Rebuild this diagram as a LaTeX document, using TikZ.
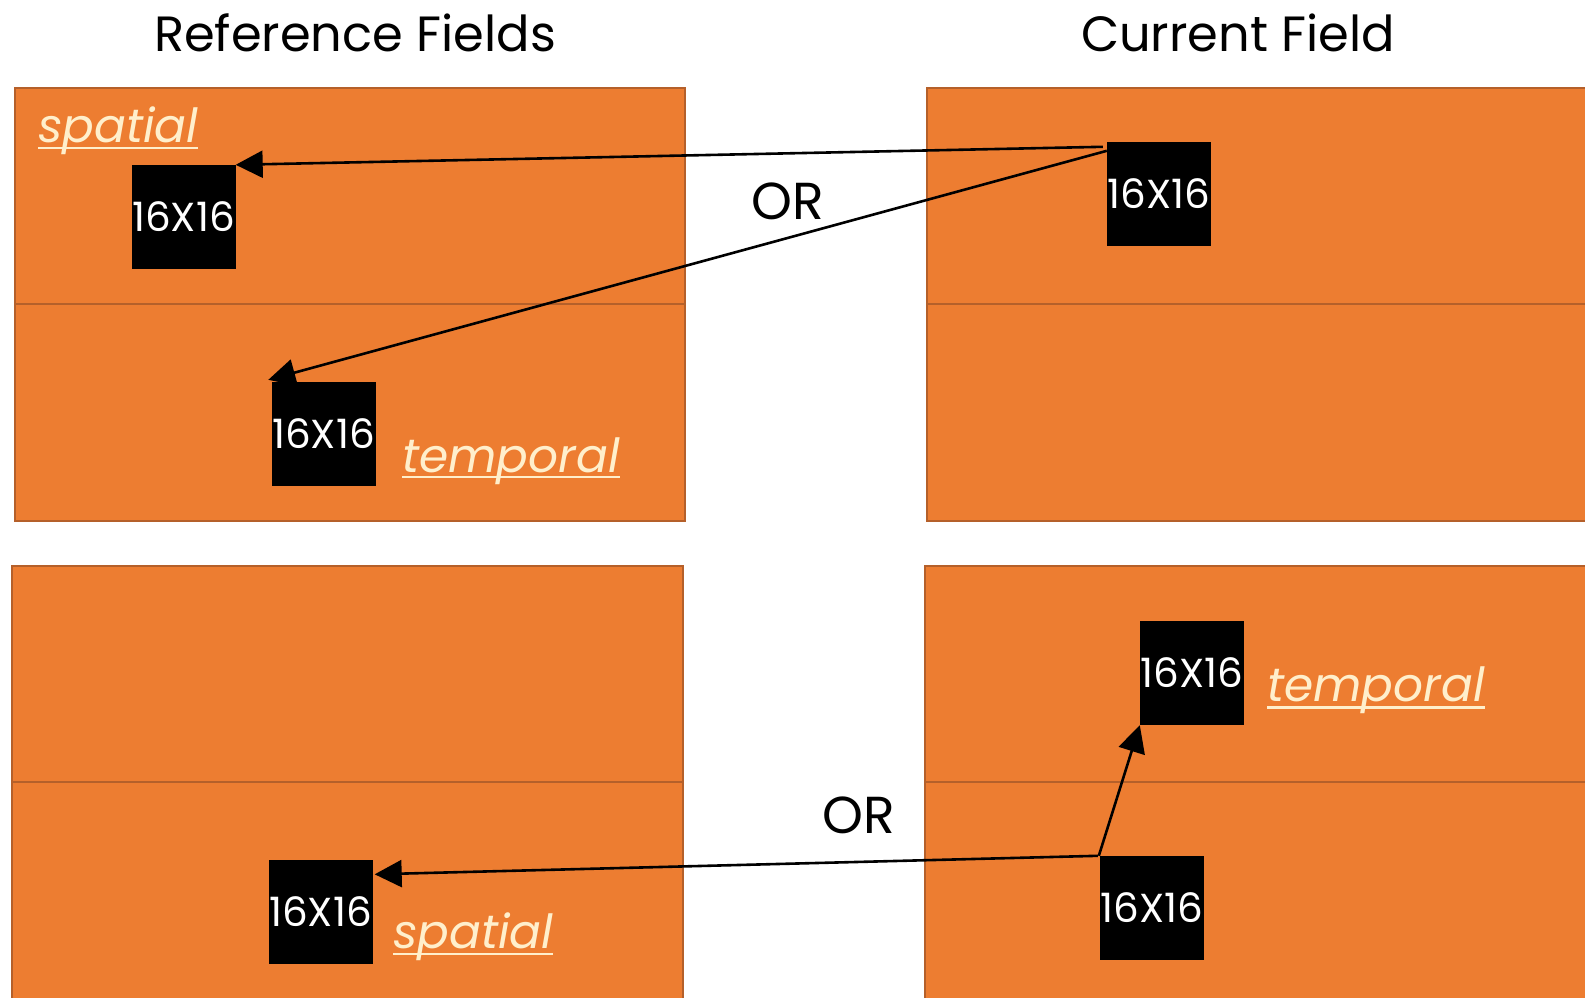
\documentclass[tikz,border=0pt]{standalone}
\usepackage{fontspec}
\setmainfont{Poppins}
\usetikzlibrary{arrows.meta}

\definecolor{fieldfill}{HTML}{ED7D31}
\definecolor{fieldedge}{HTML}{B5602A}
\definecolor{labelcream}{HTML}{FFEFCC}

\tikzset{
  field/.style={fill=fieldfill, draw=fieldedge, line width=2pt},
  block/.style={fill=black, minimum width=104pt, minimum height=104pt,
    inner sep=0pt, text=white, font=\fontsize{40.5}{40.5}\selectfont},
  tag/.style={text=labelcream, inner sep=0pt, anchor=base west,
    font=\fontsize{47}{47}\selectfont\itshape},
  heading/.style={inner sep=0pt, anchor=base, font=\fontsize{49.5}{49.5}\selectfont},
  orword/.style={inner sep=0pt, anchor=base, font=\fontsize{52}{52}\selectfont},
  link/.style={line width=2.6pt, -{Triangle[length=27pt,width=27pt]}},
  rule/.style={labelcream, line width=2.5pt}
}

\begin{document}
\begin{tikzpicture}[x=1pt, y=-1pt]
  \fill[white] (0,0) rectangle (1585,997);
  \useasboundingbox (0,0) rectangle (1585,997);
  \clip (0,0) rectangle (1585,997);

  % headings
  \node[heading] (hRef) at (355,51) {Reference Fields};
  \node[heading] (hCur) at (1238,51) {Current Field};

  % reference fields (left) and current fields (right), each split in two
  \draw[field] (15,88) rectangle (685,304);
  \draw[field] (15,304) rectangle (685,521);
  \draw[field] (927,88) rectangle (1600,304);
  \draw[field] (927,304) rectangle (1600,521);
  \draw[field] (12,566) rectangle (683,782);
  \draw[field] (12,782) rectangle (683,1010);
  \draw[field] (925,566) rectangle (1600,782);
  \draw[field] (925,782) rectangle (1600,1010);

  % 16x16 blocks
  \node[block] (A) at (183.5,217) {16X16};
  \node[block] (B) at (323.5,434) {16X16};
  \node[block] (C) at (1159,194) {16X16};
  \node[block] (D) at (1192,673) {16X16};
  \node[block] (E) at (1152,908) {16X16};
  \node[block] (F) at (320.5,911.5) {16X16};

  % labels
  \node[tag] (s1) at (38,142) {spatial};
  \node[tag] (t1) at (402,472) {temporal};
  \node[tag] (t2) at (1267,701) {temporal};
  \node[tag] (s2) at (393,948) {spatial};
  \draw[rule] ([yshift=-6pt]s1.base west) -- ([yshift=-6pt]s1.base east);
  \draw[rule] ([yshift=-5pt]t1.base west) -- ([yshift=-5pt]t1.base east);
  \draw[rule] ([yshift=-6.5pt]t2.base west) -- ([yshift=-6.5pt]t2.base east);
  \draw[rule] ([yshift=-6pt]s2.base west) -- ([yshift=-6pt]s2.base east);

  \node[orword] (or1) at (788,219) {OR};
  \node[orword] (or2) at (859,833) {OR};

  % motion search arrows
  \draw[link] ([shift={(-4pt,-5pt)}]C.north west) -- (A.north east);
  \draw[link] ([yshift=-9pt]C.north west) -- ([shift={(-3pt,2pt)}]B.north west);
  \draw[link] ([xshift=-1pt]E.north west) -- (D.south west);
  \draw[link] ([xshift=-2pt]E.north west) -- ([shift={(2pt,-15pt)}]F.north east);
\end{tikzpicture}
\end{document}
